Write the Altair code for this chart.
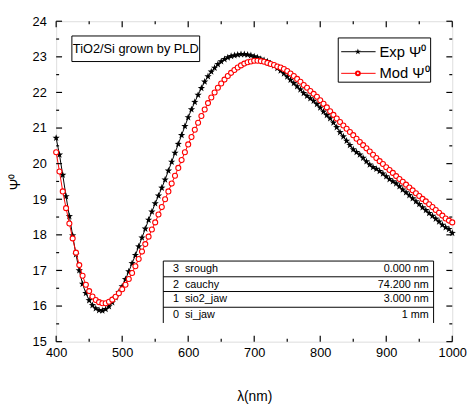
import altair as alt
import pandas as pd

# ---------------- data ----------------
wavelength = list(range(400, 1001, 5))

psi_exp = [
    20.72, 20.25, 19.68, 19.08, 18.52, 17.98, 17.45, 17.00, 16.62, 16.36,
    16.16, 16.02, 15.93, 15.88, 15.87, 15.91, 15.99, 16.10, 16.24, 16.39,
    16.55, 16.75, 16.97, 17.20, 17.43, 17.67, 17.92, 18.17, 18.42, 18.65,
    18.88, 19.10, 19.32, 19.55, 19.80, 20.05, 20.30, 20.55, 20.80, 21.05,
    21.30, 21.52, 21.73, 21.93, 22.12, 22.30, 22.45, 22.58, 22.69, 22.79,
    22.87, 22.93, 22.98, 23.02, 23.04, 23.06, 23.07, 23.07, 23.06, 23.04,
    23.01, 22.98, 22.94, 22.90, 22.87, 22.81, 22.75, 22.68, 22.61, 22.53,
    22.44, 22.35, 22.26, 22.17, 22.08, 21.98, 21.90, 21.83, 21.76, 21.67,
    21.57, 21.46, 21.36, 21.27, 21.15, 21.02, 20.88, 20.76, 20.64, 20.52,
    20.40, 20.32, 20.25, 20.16, 20.06, 19.97, 19.90, 19.85, 19.79, 19.72,
    19.64, 19.56, 19.50, 19.44, 19.36, 19.27, 19.19, 19.11, 19.02, 18.94,
    18.86, 18.77, 18.69, 18.61, 18.53, 18.45, 18.37, 18.28, 18.21, 18.16,
    18.05,
]

psi_mod = [
    20.32, 19.78, 19.22, 18.75, 18.32, 17.90, 17.50, 17.15, 16.85, 16.60,
    16.42, 16.27, 16.17, 16.11, 16.08, 16.08, 16.12, 16.18, 16.26, 16.36,
    16.47, 16.60, 16.76, 16.93, 17.12, 17.32, 17.53, 17.74, 17.95, 18.15,
    18.35, 18.57, 18.78, 19.00, 19.22, 19.44, 19.66, 19.88, 20.10, 20.32,
    20.54, 20.75, 20.95, 21.15, 21.34, 21.52, 21.70, 21.86, 22.00, 22.13,
    22.25, 22.36, 22.46, 22.55, 22.63, 22.70, 22.76, 22.81, 22.85, 22.87,
    22.89, 22.89, 22.88, 22.86, 22.83, 22.80, 22.77, 22.73, 22.70, 22.66,
    22.60, 22.53, 22.46, 22.38, 22.30, 22.21, 22.13, 22.04, 21.96, 21.88,
    21.78, 21.68, 21.58, 21.47, 21.37, 21.27, 21.17, 21.07, 20.98, 20.89,
    20.80, 20.70, 20.61, 20.52, 20.43, 20.34, 20.25, 20.16, 20.07, 19.99,
    19.90, 19.82, 19.74, 19.65, 19.57, 19.49, 19.41, 19.33, 19.25, 19.17,
    19.09, 19.01, 18.94, 18.86, 18.78, 18.70, 18.62, 18.54, 18.46, 18.40,
    18.35,
]

x_major = [400, 500, 600, 700, 800, 900, 1000]
x_minor = [450, 550, 650, 750, 850, 950]
y_major = [15, 16, 17, 18, 19, 20, 21, 22, 23, 24]
y_minor = [15.5, 16.5, 17.5, 18.5, 19.5, 20.5, 21.5, 22.5, 23.5]

layer_idx = ["3", "2", "1", "0"]
layer_name = ["srough", "cauchy", "sio2_jaw", "si_jaw"]
layer_val = ["0.000 nm", "74.200 nm", "3.000 nm", "1 mm"]

series_names = ["Exp \u03a8\u2070", "Mod \u03a8\u2070"]
box_title = "TiO2/Si grown by PLD"

assert len(psi_exp) == len(wavelength) == len(psi_mod)

W, H = 403, 326
FONT = "Liberation Sans"
NARROW = "Liberation Sans Narrow, Liberation Sans"
STAR = ("M0,-1L0.235,-0.324L0.951,-0.309L0.38,0.124L0.588,0.809L0,0.4"
        "L-0.588,0.809L-0.38,0.124L-0.951,-0.309L-0.235,-0.324Z")

exp_df = pd.DataFrame({"lam": wavelength, "psi": psi_exp})
mod_df = pd.DataFrame({"lam": wavelength, "psi": psi_mod})

xs = alt.Scale(domain=[400, 1000], nice=False, zero=False)
ys = alt.Scale(domain=[15, 24], nice=False, zero=False)

x_axis = alt.Axis(
    values=x_major, title="\u03bb(nm)", ticks=False, domain=False, grid=False,
    labelFontSize=13, labelFont=FONT, labelColor="black", labelPadding=5,
    labelOverlap=False, labelFlush=False,
    titleFont=FONT, titleFontSize=14, titleFontWeight="normal", titleColor="black",
    titlePadding=31, format="d")
y_axis = alt.Axis(
    values=y_major, title="\u03a8\u2070", ticks=False, domain=False, grid=False,
    labelFontSize=13, labelFont=FONT, labelColor="black", labelPadding=10,
    labelOverlap=False, labelFlush=False,
    titleFont=FONT, titleFontSize=14, titleFontWeight="normal", titleColor="black",
    titlePadding=10, format="d")

XE = alt.X("lam:Q", scale=xs, axis=x_axis)
YE = alt.Y("psi:Q", scale=ys, axis=y_axis)

exp_line = alt.Chart(exp_df).mark_line(color="black", strokeWidth=1).encode(x=XE, y=YE)
exp_pts = alt.Chart(exp_df).mark_point(shape=STAR, filled=True, color="black", size=60, opacity=1).encode(
    x=XE, y=YE)
mod_line = alt.Chart(mod_df).mark_line(color="red", strokeWidth=1).encode(x=XE, y=YE)
mod_pts = alt.Chart(mod_df).mark_point(shape="circle", filled=False, color="red", fill="white",
                                       fillOpacity=1, strokeWidth=1.1, size=26, opacity=1).encode(
    x=XE, y=YE)

# inward ticks on all four sides
xmaj = pd.DataFrame({"lam": x_major})
xmin = pd.DataFrame({"lam": x_minor})
ymaj = pd.DataFrame({"psi": y_major})
ymin = pd.DataFrame({"psi": y_minor})

def xticks(df, L):
    b = alt.Chart(df).mark_rule(color="black", strokeWidth=1.2).encode(
        x=XE, y=alt.value(H), y2=alt.value(H - L))
    t = alt.Chart(df).mark_rule(color="black", strokeWidth=1.2).encode(
        x=XE, y=alt.value(0), y2=alt.value(L))
    return b + t

def yticks(df, L):
    l = alt.Chart(df).mark_rule(color="black", strokeWidth=1.2).encode(
        y=YE, x=alt.value(0), x2=alt.value(L))
    r = alt.Chart(df).mark_rule(color="black", strokeWidth=1.2).encode(
        y=YE, x=alt.value(W), x2=alt.value(W - L))
    return l + r

one = pd.DataFrame({"a": [0]})

def hrule(x1, x2, y, color="black", sw=1):
    return alt.Chart(one).mark_rule(color=color, strokeWidth=sw).encode(
        x=alt.value(x1), x2=alt.value(x2), y=alt.value(y))

def vrule(x, y1, y2, color="black", sw=1):
    return alt.Chart(one).mark_rule(color=color, strokeWidth=sw).encode(
        x=alt.value(x), y=alt.value(y1), y2=alt.value(y2))

def txt(s, x, y, size, align="left", font=FONT, color="black"):
    return alt.Chart(one).mark_text(text=s, fontSize=size, font=font, align=align,
                                    baseline="middle", color=color).encode(
        x=alt.value(x), y=alt.value(y))

def rect(x1, x2, y1, y2):
    return alt.Chart(one).mark_rect(fill="white", stroke="black", strokeWidth=1).encode(
        x=alt.value(x1), x2=alt.value(x2), y=alt.value(y1), y2=alt.value(y2))

# title box
title_box = rect(16, 146, 15, 41) + txt(box_title, 81, 28, 13, align="center")

# legend box
leg = rect(287, 381, 17, 62)
leg += hrule(290, 325, 31, "black") + hrule(290, 325, 53, "red")
leg += alt.Chart(one).mark_point(shape=STAR, filled=True, color="black", size=40, opacity=1).encode(
    x=alt.value(307), y=alt.value(31))
leg += alt.Chart(one).mark_point(shape="circle", filled=False, color="red", fill="white",
                                 fillOpacity=1, size=16, opacity=1).encode(
    x=alt.value(307), y=alt.value(53))
leg += txt(series_names[0], 329, 31, 15) + txt(series_names[1], 329, 53, 15)

# layer table
TX1, TX2 = 109, 384
row_tops = [244, 260, 275, 291]
table = alt.Chart(one).mark_rect(fill="white").encode(
    x=alt.value(TX1), x2=alt.value(TX2), y=alt.value(244), y2=alt.value(307))
for yy in row_tops:
    table += hrule(TX1, TX2, yy)
table += vrule(TX1, 244, 307) + vrule(TX2, 244, 307)
for i in range(4):
    cy = row_tops[i] + 8
    table += txt(layer_idx[i], 119, cy, 11, font=NARROW)
    table += txt(layer_name[i], 131, cy, 11, font=NARROW)
    table += txt(layer_val[i], 379, cy, 11, align="right", font=NARROW)

chart = alt.layer(
    exp_line, exp_pts, mod_line, mod_pts,
    xticks(xmaj, 6), xticks(xmin, 3), yticks(ymaj, 6), yticks(ymin, 3),
    title_box, leg, table,
).properties(
    width=W, height=H,
    autosize=alt.AutoSizeParams(type="none"),
    padding={"left": 49, "top": 10, "right": 15, "bottom": 62},
).configure_view(stroke="black", strokeWidth=1.5).configure(background="white")

chart.save("out.html", embed_options={"renderer": "svg", "actions": False})
